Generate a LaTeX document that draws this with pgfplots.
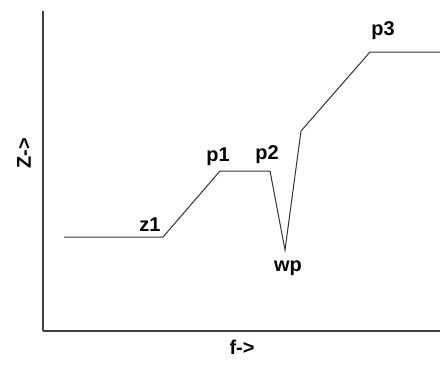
\documentclass[border=0pt]{standalone}
\usepackage{pgfplots}
\pgfplotsset{compat=1.18}
\usepackage{fontspec}
\setmainfont{Liberation Sans}
\begin{document}
\begin{tikzpicture}[x=1bp,y=1bp]
\path[use as bounding box] (0,0) rectangle (440,364);
\begin{axis}[
  at={(43bp,33bp)}, anchor=south west,
  scale only axis, width=397bp, height=320bp,
  xmin=43, xmax=440, ymin=33, ymax=353,
  axis x line=bottom, axis y line=left,
  axis line style={-, line width=1.2bp, black!75},
  ticks=none, clip=false,
]
\addplot[black!80, line width=1bp] coordinates {
 (64,127) (163,127) (220,193) (270,193) (285,114) (301,233) (370,312) (440,312)};
\tikzset{lbl/.style={font=\bfseries\fontsize{20}{24}\selectfont, inner sep=0pt}}
\node[lbl] at (axis cs:150,139) {z1};
\node[lbl] at (axis cs:218,207) {p1};
\node[lbl] at (axis cs:267,209) {p2};
\node[lbl] at (axis cs:288,96) {wp};
\node[lbl] at (axis cs:383,333) {p3};
\node[lbl, rotate=90] at (axis cs:24,211) {Z->};
\node[lbl] at (axis cs:242,17) {f->};
\end{axis}
\end{tikzpicture}
\end{document}
